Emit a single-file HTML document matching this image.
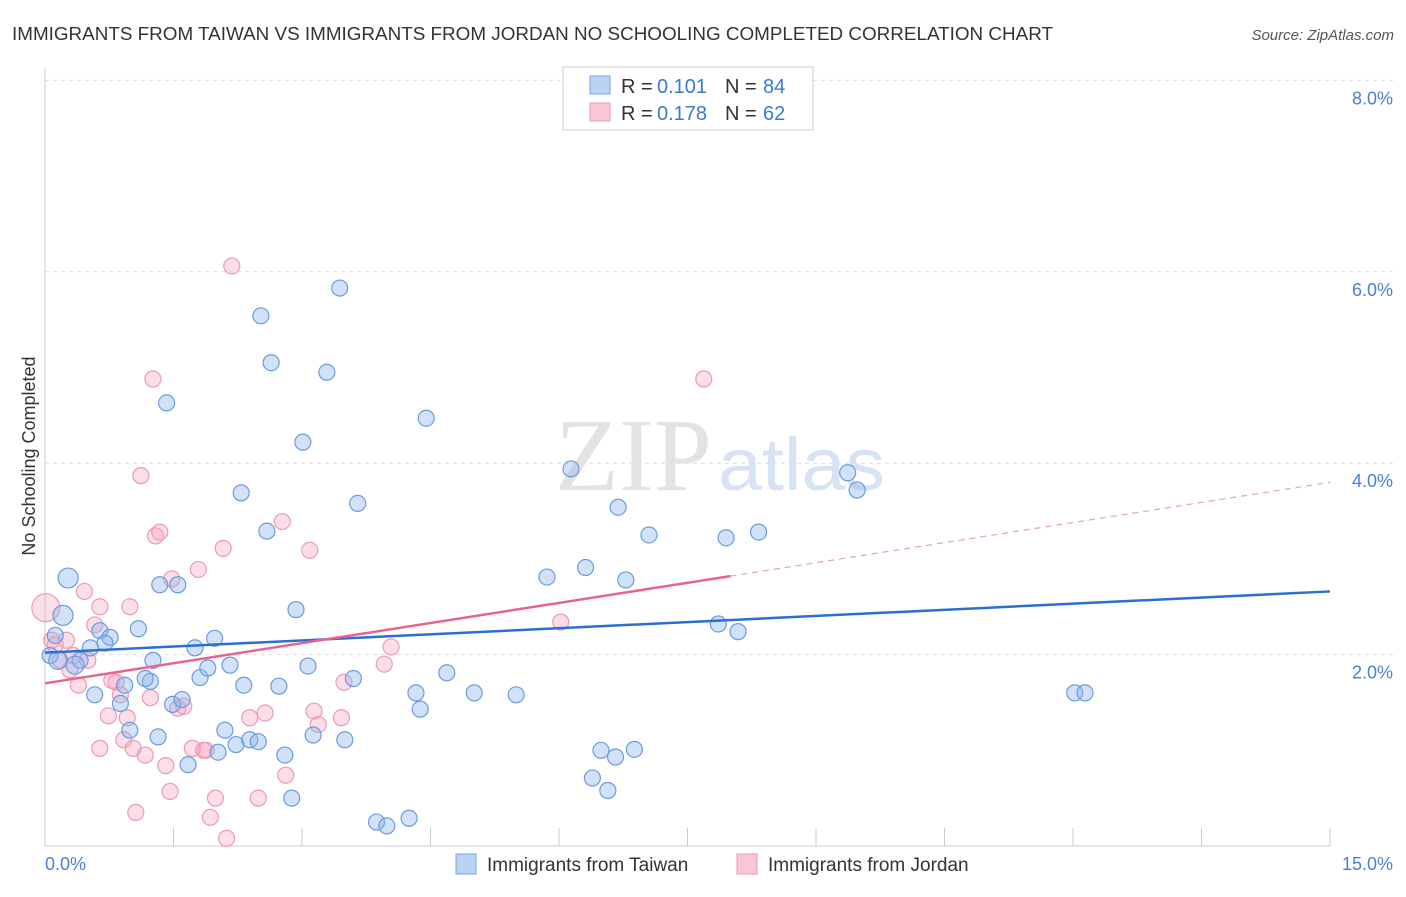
<!DOCTYPE html>
<html><head><meta charset="utf-8"><style>
body{margin:0;background:#fff;font-family:"Liberation Sans",sans-serif}
</style></head><body>
<svg id="c" width="1406" height="892" xmlns="http://www.w3.org/2000/svg">
<text x="12" y="40" font-size="18" fill="#333" textLength="1041" lengthAdjust="spacingAndGlyphs">IMMIGRANTS FROM TAIWAN VS IMMIGRANTS FROM JORDAN NO SCHOOLING COMPLETED CORRELATION CHART</text>
<text x="1394" y="40" font-size="15" fill="#555" font-style="italic" text-anchor="end">Source: ZipAtlas.com</text>
<text x="35" y="456" font-size="18" fill="#333" transform="rotate(-90 35 456)" text-anchor="middle">No Schooling Completed</text>
<text x="712" y="490" font-size="104" fill="#e3e3e3" text-anchor="end" font-family="Liberation Serif,serif" textLength="157" lengthAdjust="spacingAndGlyphs">ZIP</text>
<text x="718" y="490" font-size="74" fill="#d5e3f5" textLength="167" lengthAdjust="spacingAndGlyphs">atlas</text>
<g id="grid"></g><g id="pts"></g><g id="lines"></g>
<g>
<rect x="563" y="67" width="250" height="63" fill="#fff" stroke="#ccc"/>
<rect x="590" y="76" width="20" height="18" fill="#b9d3f5" stroke="#7aa6e4"/>
<rect x="590" y="103" width="20" height="18" fill="#f9c7d6" stroke="#ec9ab4"/>
<text x="621" y="93" font-size="20" fill="#333">R =</text>
<text x="657" y="93" font-size="20" fill="#3b78d8">0.101</text>
<text x="725" y="93" font-size="20" fill="#333">N =</text>
<text x="763" y="93" font-size="20" fill="#3b78d8">84</text>
<text x="621" y="120" font-size="20" fill="#333">R =</text>
<text x="657" y="120" font-size="20" fill="#3b78d8">0.178</text>
<text x="725" y="120" font-size="20" fill="#333">N =</text>
<text x="763" y="120" font-size="20" fill="#3b78d8">62</text>
</g>
<g>
<rect x="456" y="854" width="20" height="20" fill="#b9d3f5" stroke="#7aa6e4"/>
<text x="487" y="871" font-size="19" fill="#333">Immigrants from Taiwan</text>
<rect x="737" y="854" width="20" height="20" fill="#f9c7d6" stroke="#ec9ab4"/>
<text x="768" y="871" font-size="19" fill="#333">Immigrants from Jordan</text>
</g>
<text x="45" y="870" font-size="18" fill="#4a7fd8">0.0%</text>
<text x="1393" y="870" font-size="18" fill="#4a7fd8" text-anchor="end">15.0%</text>
</svg>
<script>
const yTicks=[2,4,6,8];
const xTicks=[0,1.5,3,4.5,6,7.5,9,10.5,12,13.5,15];
const taiwanX=[0.27,0.21,0.12,0.06,0.15,0.41,0.64,0.76,0.70,0.53,0.35,0.58,0.93,0.88,1.09,0.99,1.23,1.17,1.26,1.34,1.55,1.42,1.32,1.67,1.49,1.60,1.75,1.81,1.90,1.98,2.02,2.10,2.16,2.23,2.32,2.39,2.49,2.29,2.52,2.64,2.59,2.73,2.80,2.88,2.93,3.01,3.07,3.13,3.29,3.44,3.50,3.60,3.65,3.87,3.99,4.25,4.33,4.38,4.45,4.69,5.01,5.50,5.86,6.14,6.31,6.39,6.49,6.57,6.66,6.69,6.78,6.88,7.05,7.86,7.95,8.09,8.33,9.37,9.48,12.02,12.14];
const taiwanY=[2.80,2.41,2.20,1.99,1.94,1.94,2.25,2.18,2.12,2.07,1.89,1.58,1.68,1.49,2.27,1.21,1.72,1.75,1.94,2.73,2.73,4.63,1.14,0.85,1.48,1.53,2.07,1.76,1.86,2.17,0.98,1.21,1.89,1.06,1.68,1.11,1.09,3.69,5.54,5.05,3.29,1.67,0.95,0.50,2.47,4.22,1.88,1.16,4.95,5.83,1.11,1.75,3.58,0.25,0.21,0.29,1.60,1.43,4.47,1.81,1.60,1.58,2.81,3.94,2.91,0.71,1.00,0.58,0.93,3.54,2.78,1.01,3.25,2.32,3.22,2.24,3.28,3.90,3.72,1.60,1.60];
const jordanX=[0.01,0.08,0.12,0.18,0.25,0.29,0.33,0.39,0.46,0.50,0.58,0.64,0.64,0.74,0.78,0.83,0.88,0.92,0.96,0.99,1.03,1.06,1.12,1.17,1.23,1.26,1.29,1.34,1.41,1.46,1.48,1.55,1.62,1.72,1.79,1.85,1.88,1.93,1.99,2.08,2.12,2.18,2.39,2.49,2.57,2.77,2.81,3.09,3.14,3.19,3.46,3.49,3.96,4.04,6.02,7.69];
const jordanY=[2.49,2.15,2.10,1.94,2.15,1.84,1.99,1.68,2.66,1.94,2.31,2.50,1.02,1.36,1.73,1.71,1.58,1.11,1.34,2.50,1.02,0.35,3.87,0.95,1.55,4.88,3.24,3.28,0.84,0.57,2.79,1.44,1.46,1.02,2.89,1.00,1.00,0.30,0.50,3.11,0.08,6.06,1.34,0.50,1.39,3.39,0.74,3.09,1.41,1.27,1.34,1.71,1.90,2.08,2.34,4.88];
const taiwanSize=[10,10,8,8,9,8,8,8,8,8,9,8,8,8,8,8,8,8,8,8,8,8,8,8,8,8,8,8,8,8,8,8,8,8,8,8,8,8,8,8,8,8,8,8,8,8,8,8,8,8,8,8,8,8,8,8,8,8,8,8,8,8,8,8,8,8,8,8,8,8,8,8,8,8,8,8,8,8,8,8,8];
const trendTaiwan=[2.02,2.66];
const trendJordan=[1.70,3.80];
const X=v=>45+v*(1285/15), Y=v=>846-v*95.7;
const NS='http://www.w3.org/2000/svg';
function mk(t,a,p){const e=document.createElementNS(NS,t);for(const k in a)e.setAttribute(k,a[k]);p.appendChild(e);return e;}
const g=document.getElementById('grid');
mk('line',{x1:45,x2:45,y1:68,y2:846,stroke:'#ccc'},g);
mk('line',{x1:45,x2:1330,y1:846,y2:846,stroke:'#ccc'},g);
yTicks.forEach(t=>{
 const l=mk('line',{x1:45,x2:1393,y1:Y(t),y2:Y(t),stroke:'#ddd','stroke-dasharray':'4,4'},g);
 
 
 const tx=mk('text',{x:1393,y:Y(t)+24,'font-size':18,fill:'#4a7fd8','text-anchor':'end'},g);tx.textContent=t.toFixed(1)+'%';
 
 
});
xTicks.forEach(t=>{
 const l=mk('line',{x1:X(t),x2:X(t),y1:828,y2:846,stroke:'#ccc'},g);
 
 
});
const p=document.getElementById('pts');
jordanX.forEach((x,i)=>{
 const c=mk('circle',{cx:X(x),cy:Y(jordanY[i]),r:i==0?14:8,fill:'rgba(245,160,190,0.35)',stroke:'#ec9ab4','stroke-width':1.2},p);
 
 
});
taiwanX.forEach((x,i)=>{
 const c=mk('circle',{cx:X(x),cy:Y(taiwanY[i]),r:taiwanSize[i],fill:'rgba(140,180,235,0.4)',stroke:'#6a9be0','stroke-width':1.2},p);
 
 
});
const L=document.getElementById('lines');
const jEnd=8.0, jMid=trendJordan[0]+(trendJordan[1]-trendJordan[0])*jEnd/15;
let l1=mk('line',{x1:X(0),y1:Y(trendTaiwan[0]),x2:X(15),y2:Y(trendTaiwan[1]),stroke:'#2d6fd1','stroke-width':2.5},L);


let l2=mk('line',{x1:X(0),y1:Y(trendJordan[0]),x2:X(jEnd),y2:Y(jMid),stroke:'#e8648f','stroke-width':2.5},L);


let l3=mk('line',{x1:X(jEnd),y1:Y(jMid),x2:X(15),y2:Y(trendJordan[1]),stroke:'#e8a0b8','stroke-width':1.2,'stroke-dasharray':'6,5'},L);


</script>
</body></html>
